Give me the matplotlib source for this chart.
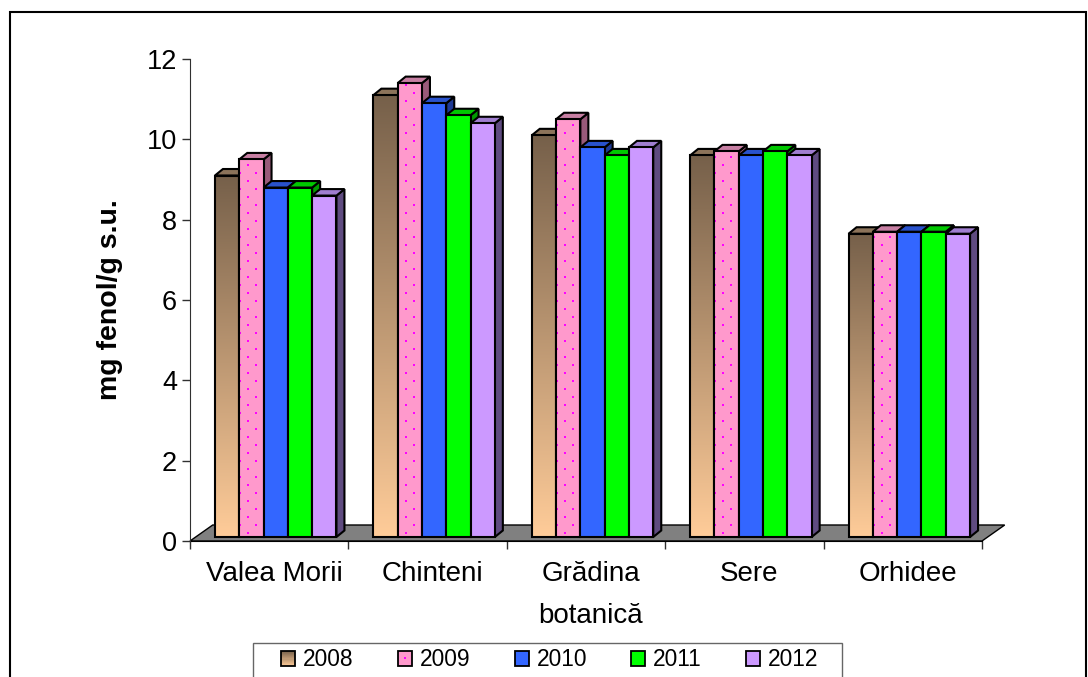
import numpy as np
import matplotlib
matplotlib.use("Agg")
import matplotlib.pyplot as plt
from matplotlib.patches import Rectangle
from matplotlib.legend_handler import HandlerBase
from matplotlib.colors import to_rgb

plt.rcParams['font.family'] = ['Liberation Sans', 'DejaVu Sans']

# ---- data -------------------------------------------------------------
categories = ["Valea Morii", "Chinteni", "Grădina\nbotanică", "Sere", "Orhidee"]
years = ["2008", "2009", "2010", "2011", "2012"]
v2008 = [9.0, 11.0, 10.0, 9.5, 7.55]
v2009 = [9.4, 11.3, 10.4, 9.6, 7.6]
v2010 = [8.7, 10.8, 9.7, 9.5, 7.6]
v2011 = [8.7, 10.5, 9.5, 9.6, 7.6]
v2012 = [8.5, 10.3, 9.7, 9.5, 7.55]
ylabel_text = "mg fenol/g s.u."
yticks = [0, 2, 4, 6, 8, 10, 12]

series = [v2008, v2009, v2010, v2011, v2012]

# ---- styling ----------------------------------------------------------
front_colors = ["#FFCC99", "#FF99CC", "#3366FF", "#00FF00", "#CC99FF"]
side_colors = ["#4E3E2E", "#995A7A", "#1F3A94", "#009A00", "#5F4B80"]
top_colors = ["#8C735A", "#C77FA3", "#2952CC", "#00C800", "#A07ED0"]
grad_top = "#76604A"     # dark end of the 2008 gradient
grad_bot = "#FFCC99"     # light end of the 2008 gradient
grad_side_top = "#4A3B2C"
grad_side_bot = "#997A5C"
dot_color = "#FF00FF"

W, H = 1088, 677
PX_X = 158.4   # pixels per category unit
PX_Y = 40.17   # pixels per value unit
BAR_W = 24.3 / PX_X
GROUP_SHIFT = 6.5 / PX_X
LIFT = 4.0 / PX_Y
DEPTH_X = 8.0 / PX_X
DEPTH_Y = 6.5 / PX_Y
FLOOR_DX = 22.7 / PX_X
FLOOR_DY = 16.0 / PX_Y
EDGE_LW = 1.5

fig = plt.figure(figsize=(W / 100, H / 100), dpi=100)
ax = fig.add_axes([190 / W, (H - 541) / H, 815 / W, 482 / H])

# floor
ax.fill([-0.5, 4.5, 4.5 + FLOOR_DX, -0.5 + FLOOR_DX], [0, 0, FLOOR_DY, FLOOR_DY],
        facecolor="#808080", edgecolor="black", lw=1.0, zorder=1.5, clip_on=False)


def vertical_gradient(c_bot, c_top, n=256):
    b = np.array(to_rgb(c_bot))
    t = np.array(to_rgb(c_top))
    f = np.linspace(0, 1, n)[:, None]
    return (b * (1 - f) + t * f)[:, None, :]


def dot_lattice(x0, width, y0, height):
    """Staggered dot pattern (8 px rows, 16 px pitch) over a rectangle."""
    xs, ys = [], []
    n_rows = int(height * PX_Y / 8.0) + 1
    for r in range(n_rows):
        yy = y0 + (4.0 + 8.0 * r) / PX_Y
        off = 8.7 if r % 2 == 0 else 0.7
        for px in np.arange(off, width * PX_X, 16.0):
            xs.append(x0 + px / PX_X)
            ys.append(yy)
    return np.array(xs), np.array(ys)


cat_x = np.arange(len(categories))
for j, vals in enumerate(series):
    base = 3 + j
    xc = cat_x + GROUP_SHIFT + (j - 2) * BAR_W
    vals = np.asarray(vals, dtype=float)
    for xi, v in zip(xc, vals):
        xl, xr = xi - BAR_W / 2, xi + BAR_W / 2
        b, t = LIFT, LIFT + v
        side_x = [xr, xr + DEPTH_X, xr + DEPTH_X, xr]
        side_y = [b, b + DEPTH_Y, t + DEPTH_Y, t]
        top_x = [xl, xl + DEPTH_X, xr + DEPTH_X, xr]
        top_y = [t, t + DEPTH_Y, t + DEPTH_Y, t]
        if j == 0:
            poly = ax.fill(side_x, side_y, facecolor="none", edgecolor="black",
                           lw=EDGE_LW, zorder=base + 0.05, clip_on=False)[0]
            im = ax.imshow(vertical_gradient(grad_side_bot, grad_side_top),
                           extent=[xr, xr + DEPTH_X, b, t + DEPTH_Y], origin="lower",
                           aspect="auto", zorder=base, interpolation="bilinear")
            im.set_clip_path(poly)
        else:
            ax.fill(side_x, side_y, facecolor=side_colors[j], edgecolor="black",
                    lw=EDGE_LW, zorder=base, clip_on=False)
        ax.fill(top_x, top_y, facecolor=top_colors[j], edgecolor="black",
                lw=EDGE_LW, zorder=base + 0.1, clip_on=False)

    if j == 0:
        bars = ax.bar(xc, vals, width=BAR_W, bottom=LIFT, facecolor="none",
                      edgecolor="black", lw=EDGE_LW, zorder=base + 0.3)
        for p, v in zip(bars.patches, vals):
            x0 = p.get_x()
            im = ax.imshow(vertical_gradient(grad_bot, grad_top),
                           extent=[x0, x0 + BAR_W, LIFT, LIFT + v], origin="lower",
                           aspect="auto", zorder=base + 0.2, interpolation="bilinear")
            im.set_clip_path(p)
    elif j == 1:
        bars = ax.bar(xc, vals, width=BAR_W, bottom=LIFT, facecolor=front_colors[j],
                      edgecolor="none", lw=0, zorder=base + 0.2)
        for p, v in zip(bars.patches, vals):
            dx, dy = dot_lattice(p.get_x(), BAR_W, LIFT, v)
            sc = ax.scatter(dx, dy, s=3.2, marker="s", c=dot_color, linewidths=0,
                            zorder=base + 0.25)
            sc.set_clip_path(p)
        ax.bar(xc, vals, width=BAR_W, bottom=LIFT, fill=False,
               edgecolor="black", lw=EDGE_LW, zorder=base + 0.3)
    else:
        ax.bar(xc, vals, width=BAR_W, bottom=LIFT, facecolor=front_colors[j],
               edgecolor="black", lw=EDGE_LW, zorder=base + 0.2)

# ---- axes -------------------------------------------------------------
ax.set_xlim(-0.5, 4.5 + 23 / PX_X)
ax.set_ylim(0, 12)
ax.set_facecolor("none")
for s in ("top", "right"):
    ax.spines[s].set_visible(False)
ax.spines["bottom"].set_bounds(-0.5, 4.5)
ax.spines["bottom"].set_color("black")
ax.spines["left"].set_color("#303030")
ax.spines["bottom"].set_zorder(1.6)

ax.set_yticks(yticks)
ax.set_yticklabels([str(t) for t in yticks])
ax.tick_params(axis="y", direction="out", length=5.8, width=1, color="#303030",
               labelsize=19.5, pad=3.6)

ax.set_xticks(np.arange(-0.5, 5.0, 1.0))
ax.set_xticklabels([])
ax.tick_params(axis="x", which="major", direction="out", length=5.8, width=1,
               color="#303030")
ax.set_xticks(cat_x + 0.03, minor=True)
ax.set_xticklabels(categories, minor=True, fontsize=20, linespacing=1.78)
ax.tick_params(axis="x", which="minor", length=0, pad=14.5)

ax.set_ylabel(ylabel_text, fontsize=20.5, fontweight="bold")
ax.yaxis.set_label_coords((123 - 190) / 815, 0.5)


# ---- legend -----------------------------------------------------------
class GradientHandler(HandlerBase):
    def __init__(self, c_bot, c_top, n=14):
        super().__init__()
        self.c_bot = np.array(to_rgb(c_bot))
        self.c_top = np.array(to_rgb(c_top))
        self.n = n

    def create_artists(self, legend, orig_handle, xdescent, ydescent, width,
                       height, fontsize, trans):
        arts = []
        for k in range(self.n):
            f = (k + 0.5) / self.n
            col = self.c_bot * (1 - f) + self.c_top * f
            arts.append(Rectangle((-xdescent, -ydescent + k * height / self.n),
                                  width, height / self.n, facecolor=col,
                                  edgecolor="none", transform=trans))
        arts.append(Rectangle((-xdescent, -ydescent), width, height,
                              facecolor="none", edgecolor="black", lw=1.3,
                              transform=trans))
        return arts


class DottedHandler(HandlerBase):
    def create_artists(self, legend, orig_handle, xdescent, ydescent, width,
                       height, fontsize, trans):
        box = Rectangle((-xdescent, -ydescent), width, height,
                        facecolor=orig_handle.get_facecolor(), edgecolor="black",
                        lw=1.3, transform=trans)
        d = width * 0.14
        dot = Rectangle((-xdescent + width / 2 - d / 2, -ydescent + height / 2 - d / 2),
                        d, d, facecolor=dot_color, edgecolor="none", transform=trans)
        return [box, dot]


handles = [Rectangle((0, 0), 1, 1, facecolor=front_colors[j], edgecolor="black", lw=1.3)
           for j in range(5)]

leg = ax.legend(handles, years, ncol=5, frameon=False, fontsize=16.4,
                loc="center left", bbox_to_anchor=(281 / W, (H - 660) / H),
                bbox_transform=fig.transFigure, borderpad=0, borderaxespad=0,
                handlelength=0.615, handleheight=0.615, handletextpad=0.35,
                columnspacing=1.94,
                handler_map={handles[0]: GradientHandler(grad_bot, grad_top),
                             handles[1]: DottedHandler()})

# legend box, running off the bottom edge
fig.add_artist(Rectangle((253 / W, -0.05), (842 - 253) / W, (H - 643) / H + 0.05,
                         transform=fig.transFigure, fill=False,
                         edgecolor="#666666", lw=1.0, clip_on=False))
# outer frame of the chart area
fig.add_artist(Rectangle((10 / W, -0.1), (1086 - 10) / W, (H - 12) / H + 0.1,
                         transform=fig.transFigure, fill=False,
                         edgecolor="black", lw=1.5, clip_on=False))

fig.savefig("out.png", dpi=100)
